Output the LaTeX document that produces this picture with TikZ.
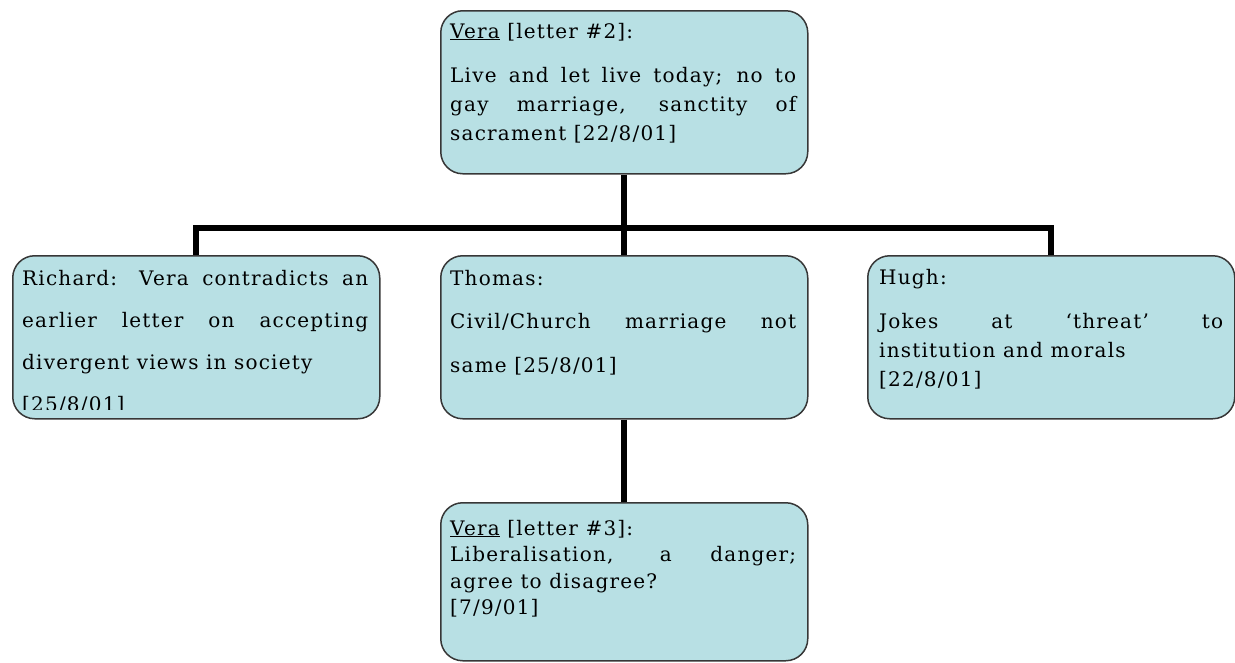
\documentclass[tikz,border=0pt]{standalone}
\usepackage{fontspec}
\setmainfont{DejaVu Serif}
\newfontfamily\boxfont[LetterSpace=6]{DejaVu Serif}
\usetikzlibrary{backgrounds}
\definecolor{boxfill}{RGB}{184,224,228}
\definecolor{boxline}{RGB}{55,55,55}
\tikzset{
  card/.style={draw=boxline, line width=1.5pt, fill=boxfill, rounded corners=22pt,
    minimum width=367pt, minimum height=163pt, inner sep=0pt, anchor=north west},
  cardtext/.style={anchor=base west, inner sep=0pt, text width=346pt, align=justify,
    font=\boxfont\fontsize{20}{#1}\selectfont},
  link/.style={line width=6pt, line join=miter}
}
\begin{document}
\begin{tikzpicture}[x=1pt,y=-1pt]
\useasboundingbox (0,0) rectangle (1235,662);
% boxes
\node[card] (vera2) at (440,10) {};
\node[card] (richard) at (12,255) {};
\node[card] (thomas) at (440,255) {};
\node[card] (hugh) at (867,255) {};
\node[card, minimum height=158pt] (vera3) at (440,502) {};
% connectors
\begin{scope}[on background layer]
  \coordinate (bus) at (623.5,228);
  \draw[link] (vera2.south) -- (thomas.north);
  \draw[link] (richard.north) |- (bus) -| (hugh.north);
  \draw[link] (thomas.south) -- (vera3.north);
\end{scope}
% texts
\node[cardtext=29] (t2) at (450,38)
  {\underline{Vera} [letter \#2]:\\[15pt]
   Live and let live today; no to\linebreak gay marriage, sanctity of\linebreak sacrament [22/8/01]};
\begin{scope}
  \clip (0,0) rectangle (1235,409);
  \node[cardtext=42.3] (tr) at (22,285)
    {Richard: Vera contradicts an\linebreak earlier letter on accepting\linebreak divergent views in society\\ {}[25/8/01]};
\end{scope}
\node[cardtext=43.5] (tt) at (450,285)
  {Thomas:\\ Civil/Church marriage not\linebreak same [25/8/01]};
\node[cardtext=29, text width=344pt] (th) at (879,284)
  {Hugh:\\[15pt] Jokes at ‘threat’ to\linebreak institution and morals\\ {}[22/8/01]};
\node[cardtext=26.5] (t3) at (450,535)
  {\underline{Vera} [letter \#3]:\\ Liberalisation, a danger;\linebreak agree to disagree?\\ {}[7/9/01]};
\end{tikzpicture}
\end{document}
